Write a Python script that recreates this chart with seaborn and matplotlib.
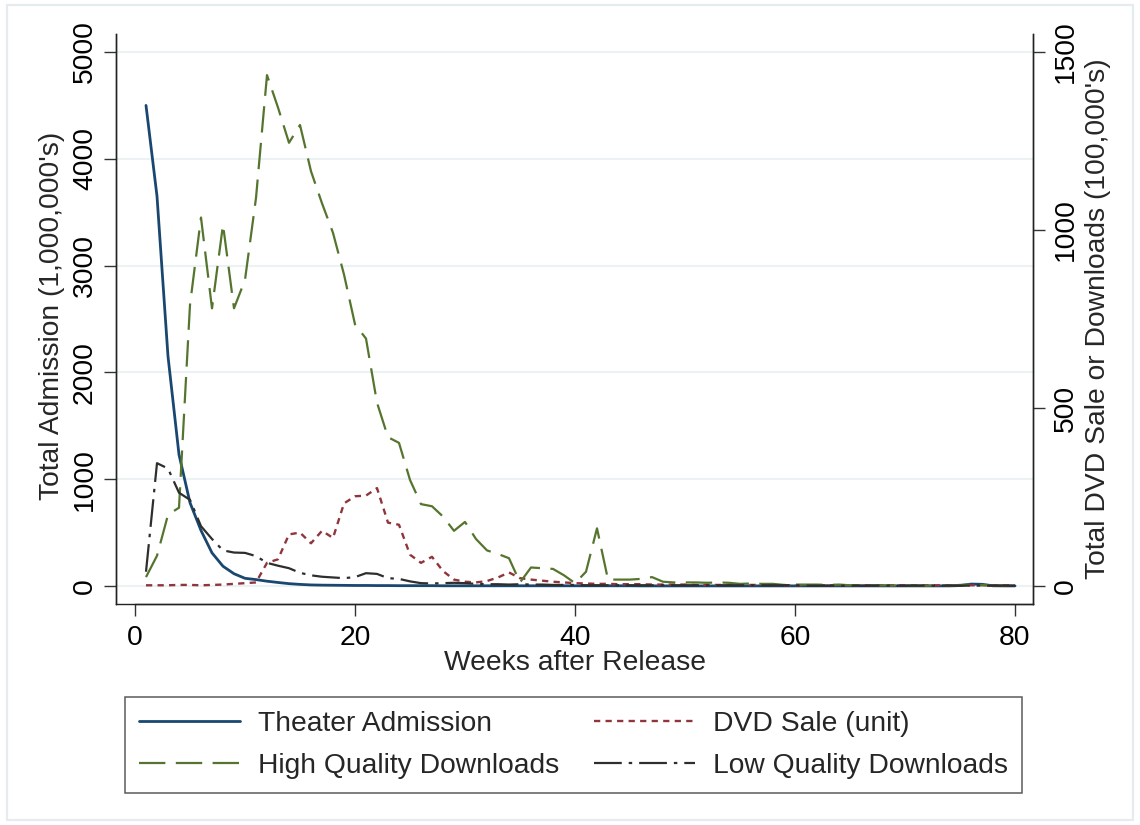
import matplotlib
matplotlib.use("Agg")
import matplotlib.pyplot as plt
import seaborn as sns
from matplotlib.patches import Rectangle

weeks = list(range(1, 81))

theater = [4500, 3650, 2150, 1230, 780, 520, 310, 185, 115, 72,
           60, 45, 33, 22, 15, 10, 8, 7, 6, 5,
           5, 4, 4, 3, 3, 3, 3, 2, 2, 2,
           2, 2, 2, 2, 2, 2, 2, 2, 2, 2,
           2, 2, 2, 2, 2, 1, 1, 1, 1, 1,
           1, 1, 1, 1, 1, 1, 1, 1, 1, 1,
           1, 1, 1, 1, 1, 1, 1, 1, 1, 1,
           1, 1, 1, 1, 4, 18, 16, 2, 1, 1]

dvd = [2, 2, 2, 3, 3, 2, 3, 4, 6, 8,
       10, 65, 75, 145, 150, 120, 155, 135, 232, 252,
       254, 275, 178, 172, 88, 65, 82, 42, 18, 12,
       10, 14, 24, 38, 22, 18, 15, 12, 10, 8,
       7, 6, 6, 5, 5, 5, 4, 4, 4, 4,
       3, 3, 3, 3, 3, 3, 3, 2, 2, 2,
       2, 2, 2, 2, 2, 2, 2, 2, 2, 2,
       2, 2, 2, 2, 2, 2, 2, 2, 2, 2]

hq = [25, 85, 200, 220, 790, 1035, 780, 1015, 780, 860,
      1090, 1435, 1344, 1245, 1295, 1165, 1075, 992, 875, 735,
      695, 515, 418, 402, 298, 230, 224, 195, 155, 180,
      132, 100, 90, 78, 10, 52, 50, 48, 30, 8,
      40, 162, 18, 18, 18, 20, 25, 12, 10, 10,
      10, 9, 10, 9, 6, 7, 6, 6, 3, 4,
      4, 4, 3, 4, 2, 2, 2, 2, 1, 1,
      1, 1, 1, 1, 3, 4, 3, 1, 1, 1]

lq = [40, 345, 330, 262, 242, 168, 132, 100, 94, 93,
      84, 65, 57, 50, 37, 30, 26, 24, 22, 25,
      36, 34, 22, 20, 13, 8, 7, 8, 9, 8,
      6, 5, 5, 4, 5, 4, 4, 3, 3, 3,
      2, 2, 2, 2, 2, 2, 2, 2, 2, 2,
      2, 2, 2, 2, 2, 2, 2, 2, 2, 2,
      1, 1, 1, 1, 1, 1, 1, 1, 1, 1,
      1, 1, 1, 1, 1, 1, 1, 1, 1, 1]

labels = ["Theater Admission", "DVD Sale (unit)",
          "High Quality Downloads", "Low Quality Downloads"]
xticks = [0, 20, 40, 60, 80]
lticks = [0, 1000, 2000, 3000, 4000, 5000]
rticks = [0, 500, 1000, 1500]

sns.set_theme(style="white")
plt.rcParams["font.family"] = ["Liberation Sans", "DejaVu Sans"]
plt.rcParams["lines.scale_dashes"] = False

W, H = 1140, 825
FS = 20.3
fig = plt.figure(figsize=(W / 100, H / 100), dpi=100)
fig.patch.set_facecolor("white")
fig.add_artist(Rectangle((7 / W, 1 - 820 / H), 1126 / W, 815 / H,
                         transform=fig.transFigure, fill=False,
                         edgecolor="#e4ecef", linewidth=1.6))

L, R, T, B = 116, 1033, 34, 604
ax = fig.add_axes([L / W, 1 - B / H, (R - L) / W, (B - T) / H])
ax2 = ax.twinx()

navy, maroon, green, dgray = "#1a476f", "#90353b", "#55752f", "#2e2e2e"

sns.lineplot(x=weeks, y=theater, ax=ax, color=navy, linewidth=2.0,
             label=labels[0], errorbar=None)
sns.lineplot(x=weeks, y=dvd, ax=ax2, color=maroon, linewidth=1.7,
             linestyle=(0, (4.5, 3.8)), label=labels[1], errorbar=None)
sns.lineplot(x=weeks, y=hq, ax=ax2, color=green, linewidth=1.6,
             linestyle=(0, (19, 7.5)), label=labels[2], errorbar=None)
sns.lineplot(x=weeks, y=lq, ax=ax2, color=dgray, linewidth=1.6,
             linestyle=(0, (20, 5, 2.5, 5)), label=labels[3], errorbar=None)

ppu = (586 - 52) / 5000.0
ymin, ymax = -(B - 586) / ppu, (586 - T) / ppu
ax.set_ylim(ymin, ymax)
ax2.set_ylim(ymin * 0.3, ymax * 0.3)
ppw = 11.0
ax.set_xlim(-(135 - L) / ppw, (R - 135) / ppw)

ax.set_xticks(xticks)
ax.set_yticks(lticks)
ax2.set_yticks(rticks)
ax.set_xticklabels([str(v) for v in xticks])
ax.set_yticklabels([str(v) for v in lticks], rotation=90, va="center")
ax2.set_yticklabels([str(v) for v in rticks], rotation=90, va="center")

for a in (ax, ax2):
    a.set_xlabel("")
    a.set_ylabel("")
    a.tick_params(axis="both", direction="out", length=8.6, width=1.0,
                  color="#333333", labelsize=FS, labelcolor="black")
    a.spines["top"].set_visible(False)
    for s in ("left", "right", "bottom"):
        a.spines[s].set_color("#222222")
        a.spines[s].set_linewidth(1.0)
    if a.get_legend() is not None:
        a.get_legend().remove()

ax.tick_params(axis="x", pad=6.5, bottom=True)
ax.tick_params(axis="y", pad=4.3, left=True)
ax2.tick_params(axis="y", pad=6.0, right=True)
ax.spines["bottom"].set_bounds(0, (R - 135) / ppw)

ax.yaxis.grid(True, color="#eaf2f3", linewidth=1.5)
ax.xaxis.grid(False)
ax2.grid(False)
ax.set_axisbelow(True)

fig.text(52 / W, 1 - 316 / H, "Total Admission (1,000,000's)", rotation=90,
         ha="center", va="center", fontsize=FS)
fig.text(1098 / W, 1 - 319 / H, "Total DVD Sale or Downloads (100,000's)",
         rotation=90, ha="center", va="center", fontsize=FS)
fig.text(574.5 / W, 1 - 663 / H, "Weeks after Release",
         ha="center", va="center", fontsize=FS)

h1, l1 = ax.get_legend_handles_labels()
h2, l2 = ax2.get_legend_handles_labels()
handles = h1 + h2
# column-major fill: row 1 = Theater, DVD; row 2 = High, Low
order = [0, 2, 1, 3]
leg = fig.legend([handles[i] for i in order], [labels[i] for i in order],
                 ncol=2, loc="upper left", mode="expand",
                 bbox_to_anchor=(125 / W, 1 - 793 / H, 897 / W, 96 / H),
                 bbox_transform=fig.transFigure, borderaxespad=0,
                 fontsize=FS, handlelength=3.57, handletextpad=0.64,
                 labelspacing=0.57, borderpad=0.5, fancybox=False,
                 frameon=True)
leg.get_frame().set_edgecolor("#333333")
leg.get_frame().set_linewidth(1.1)

fig.savefig("out.png", dpi=100, facecolor="white")
